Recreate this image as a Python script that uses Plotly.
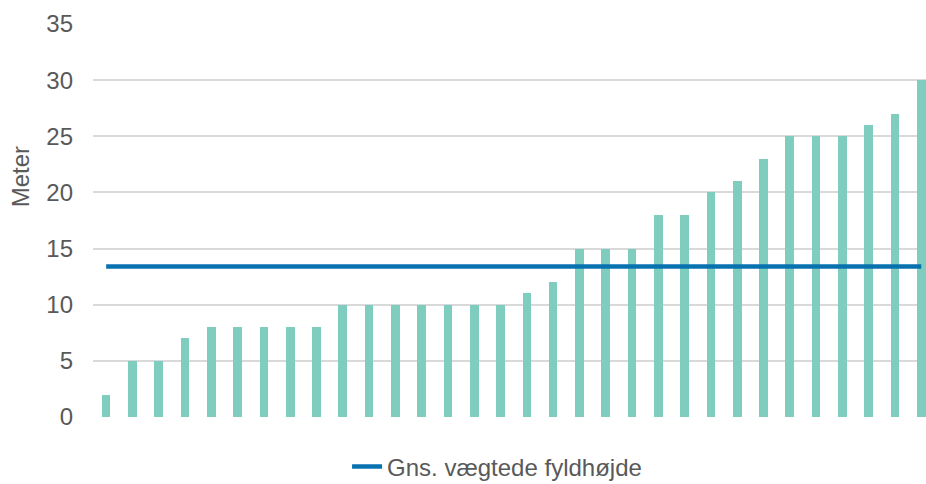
import plotly.graph_objects as go

categories = [f"P{i+1}" for i in range(32)]
heights = [2, 5, 5, 7, 8, 8, 8, 8, 8, 10, 10, 10, 10, 10, 10, 10,
           11, 12, 15, 15, 15, 18, 18, 20, 21, 23, 25, 25, 25, 26, 27, 30]
avg_height = 13.4
avg_label = "Gns. vægtede fyldhøjde"
y_title = "Meter"
y_ticks = [0, 5, 10, 15, 20, 25, 30, 35]

fig = go.Figure()
fig.add_trace(go.Bar(
    x=categories, y=heights, width=0.33,
    marker=dict(color="#7fcdbf", line=dict(width=0)),
    showlegend=False,
))
fig.add_trace(go.Scatter(
    x=categories, y=[avg_height] * len(categories),
    mode="lines", name=avg_label,
    line=dict(color="#0872b1", width=4.5),
))

fig.add_annotation(
    text=y_title, textangle=-90, xref="paper", yref="paper",
    x=-0.0876, y=0.61, xanchor="center", yanchor="middle", showarrow=False,
    font=dict(size=24, color="#595959"),
)

fig.update_layout(
    width=926, height=484,
    margin=dict(l=93, r=0, t=24, b=67, autoexpand=False),
    plot_bgcolor="white", paper_bgcolor="white",
    font=dict(family="Liberation Sans, Arial, sans-serif", color="#595959", size=24),
    xaxis=dict(range=[-0.5, 31.18], showticklabels=False, showgrid=False,
               zeroline=False, showline=False, ticks="", automargin=False),
    yaxis=dict(range=[0, 35], tickvals=y_ticks, showgrid=True,
               gridcolor="#d9d9d9", gridwidth=1.5, zeroline=False,
               showline=False, ticklabelstandoff=19, automargin=False,
               tickfont=dict(size=24)),
    legend=dict(orientation="h", x=0.305, xanchor="left", y=-0.07, yanchor="top",
                font=dict(size=24)),
    bargap=0,
)

fig.write_html(
    "out.html",
    config={"displayModeBar": False},
    post_script="document.body.style.margin='0';document.body.style.overflow='hidden';",
)
